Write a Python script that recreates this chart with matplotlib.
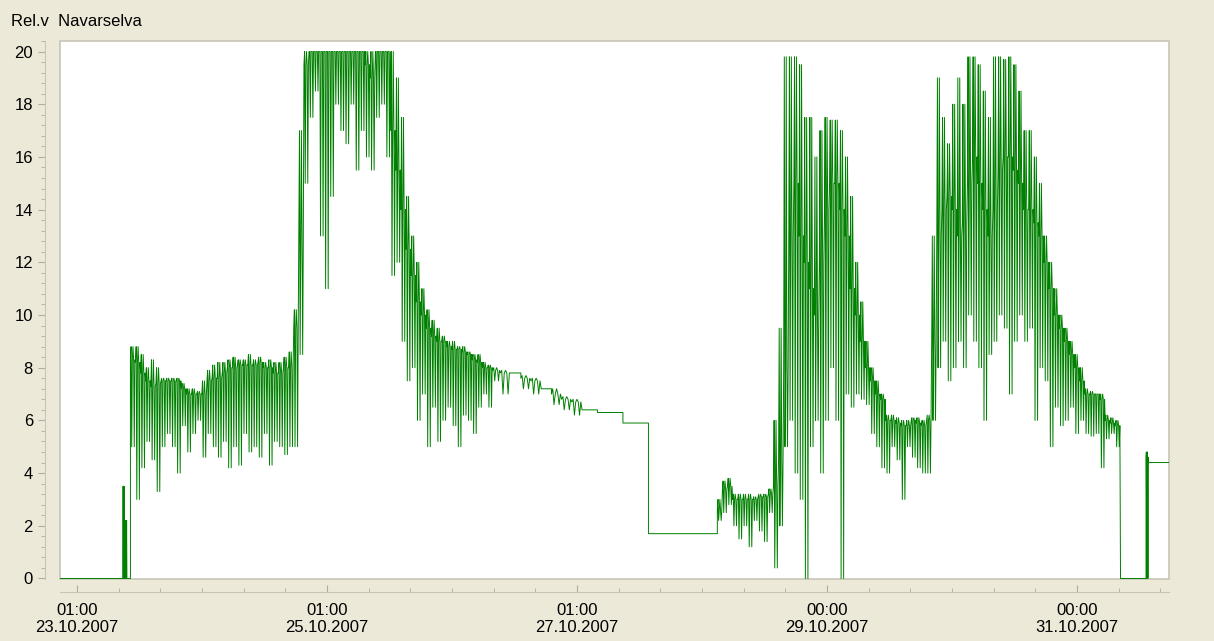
import matplotlib
matplotlib.use("Agg")
import matplotlib.pyplot as plt
from matplotlib.patches import Rectangle
from matplotlib.ticker import FixedLocator, MultipleLocator
import numpy as np

plt.rcParams["font.family"] = ["Liberation Sans", "DejaVu Sans"]

# hours since 23.10.2007 00:00 (approximate reading scale)
hours = [-4.3, 6, 6.5, 7, 7.5, 8, 8.5, 9, 9.5, 10.5,
         11.5, 12.5, 13.5, 14.5, 15.5, 16.5, 17.5, 18.5, 19.5, 20.5,
         21.5, 22.5, 23.5, 24.5, 25.5, 26.5, 27.5, 28.5, 29.5, 30.5,
         31.5, 32.5, 33.5, 34.5, 35.5, 36.5, 37.5, 38.5, 39.5, 40.5,
         41.5, 42.5, 43.5, 44.5, 45.5, 46.5, 47.5, 48.5, 49.5, 50.5,
         51.5, 52.5, 53.5, 54.5, 55.5, 56.5, 57.5, 58.5, 59.5, 60.5,
         61.5, 62.5, 63.5, 64.5, 65.5, 66.5, 67.5, 68.5, 69.5, 70.5,
         71.5, 72.5, 73.5, 74.5, 75.5, 76.5, 77.5, 78.5, 79.5, 80.5,
         82, 84, 86, 88, 90, 92, 94, 96, 98, 101,
         104, 106, 108, 110.5, 111, 114, 117, 120, 123, 124.5,
         125.5, 126.5, 127.5, 128.5, 129.5, 130.5, 131.5, 132.5, 133.5, 134.5,
         135.5, 136.5, 137.5, 138.5, 139.5, 140.5, 141.5, 142.5, 143.5, 144.5,
         145.5, 146.5, 147.5, 148.5, 149.5, 150.5, 151.5, 152.5, 153.5, 154.5,
         155.5, 156.5, 157.5, 158.5, 159.5, 160.5, 161.5, 162.5, 163.5, 164.5,
         165.5, 166.5, 167.5, 168.5, 169.5, 170.5, 171.5, 172.5, 173.5, 174.5,
         175.5, 176.5, 177.5, 178.5, 179.5, 180.5, 181.5, 182.5, 183.5, 184.5,
         185.5, 186.5, 187.5, 188.5, 189.5, 190.5, 191.5, 192.5, 193.5, 194.5,
         195.5, 196.5, 197.5, 198.5, 199.5, 200.5, 201.5, 202.5, 203.5, 204.5,
         206, 208.5, 209, 210, 211, 213]
main = [0, 0, 0, 0, 0, 0, 0, 0, 8.3, 8.2,
        7.8, 7.5, 7.3, 7.4, 7.5, 7.5, 7.5, 7.5, 7.2, 7.0,
        7.0, 7.0, 7.0, 7.5, 7.6, 7.6, 7.8, 8.0, 8.0, 8.1,
        8.1, 8.1, 8.1, 8.2, 8.0, 8.0, 7.8, 7.8, 8.0, 8.0,
        9.5, 13, 19.5, 20, 20, 20, 20, 20, 20, 20,
        20, 20, 20, 20, 19.5, 19, 20, 20, 20, 17,
        15.5, 14, 12.5, 11.5, 10.5, 10, 9.5, 9.2, 9, 9,
        8.8, 8.7, 8.7, 8.6, 8.5, 8.3, 8.2, 8.0, 8.0, 7.9,
        7.8, 7.8, 7.6, 7.5, 7.2, 7.0, 6.8, 6.7, 6.4, 6.3,
        6.3, 5.9, 5.9, 5.9, 1.7, 1.7, 1.7, 1.7, 1.7, 2.6,
        3.4, 3.5, 3.0, 3.0, 3.0, 3.0, 3.0, 3.1, 3.1, 3.2,
        3.5, 4.5, 8, 13, 15, 13, 12, 11, 10, 12,
        14, 15, 15, 14, 13, 11, 10, 9, 8, 7.5,
        7, 6.8, 6.0, 6.0, 5.9, 5.8, 5.8, 6.0, 5.9, 5.8,
        6, 9, 13, 14, 14.5, 14, 13, 13.5, 15, 16,
        15, 14, 13, 14, 15.5, 16, 16, 15.5, 15, 14,
        14, 13.5, 13, 12, 11, 10, 9.5, 9, 8.5, 8,
        7.5, 7, 7, 7, 6.8, 6, 5.9, 5.8, 0, 0,
        0, 4.6, 4.4, 4.4, 4.4, 4.4]
low = [0, 0, 0, 0, 0, 0, 0, 0, 5.0, 3.0,
       4.2, 5.2, 4.5, 3.3, 5.0, 5.5, 5.0, 4.0, 5.8, 4.8,
       5.5, 6.0, 4.6, 5.5, 5.0, 4.6, 5.2, 4.2, 5.0, 4.3,
       5.5, 4.8, 5.0, 4.6, 5.5, 4.3, 5.2, 5.0, 4.7, 5.0,
       5.0, 8.5, 15, 17.5, 18.5, 13, 11, 14.5, 18, 17,
       16.5, 18, 15.5, 17, 16, 15.5, 17.5, 18, 16, 11.5,
       12, 9, 7.5, 8, 6, 7, 5, 6.5, 5.2, 6,
       6.5, 5.8, 5, 6.2, 6, 5.5, 6.5, 7, 6.5, 7.5,
       7, 7.5, 7.2, 7, 7, 6.6, 6.4, 6.2, 6.2, 6.2,
       6.2, 5.8, 5.8, 5.8, 1.5, 1.5, 1.6, 1.6, 1.6, 2.2,
       2.5, 2.8, 2.0, 1.5, 2.0, 1.2, 2.2, 1.8, 1.4, 2.5,
       0.4, 2, 5, 6, 4, 3, 0, 5, 6, 4,
       6, 8, 6, 0, 7, 6.5, 7, 6.8, 6.6, 5.5,
       5, 4.2, 4, 5, 4.5, 3, 5, 4.6, 4.2, 4.0,
       4, 6, 8, 9, 7.5, 8, 9, 8, 10, 9,
       8, 6, 8.5, 9, 10, 9.5, 7, 9, 10, 9,
       9.5, 6, 8, 7.5, 5, 6.5, 5.8, 6, 6.5, 5.5,
       6, 5.5, 5.4, 5.5, 4.2, 5.3, 5.5, 5.0, 0, 0,
       0, 0, 4.3, 4.3, 4.3, 4.3]
high = [0, 0, 0, 0, 0, 3.5, 2.2, 0, 8.8, 8.8,
        8.5, 8.0, 8.3, 8.0, 7.6, 7.6, 7.6, 7.6, 7.4, 7.2,
        7.2, 7.1, 7.5, 7.9, 8.1, 8.2, 8.2, 8.3, 8.4, 8.3,
        8.3, 8.5, 8.3, 8.4, 8.2, 8.3, 8.2, 8.2, 8.4, 8.6,
        10.2, 17, 20, 20, 20, 20, 20, 20, 20, 20,
        20, 20, 20, 20, 20, 20, 20, 20, 20, 20,
        19, 17.5, 14.5, 13, 12, 11, 10.2, 9.8, 9.5, 9.2,
        9, 9, 8.8, 8.8, 8.6, 8.5, 8.5, 8.2, 8.1, 8.0,
        7.9, 7.9, 7.7, 7.6, 7.4, 7.2, 6.9, 6.8, 6.4, 6.4,
        6.4, 6.0, 6.0, 6.0, 1.9, 1.8, 1.8, 1.8, 1.8, 3.0,
        3.7, 3.8, 3.2, 3.2, 3.2, 3.2, 3.1, 3.2, 3.2, 3.4,
        6, 9.5, 19.8, 19.8, 19.8, 19.5, 17.5, 17.5, 16, 17,
        17.5, 17.4, 17.4, 17, 16, 14.5, 12, 10.5, 9, 8,
        7.5, 7, 6.2, 6.2, 6.1, 6.0, 6.0, 6.1, 6.1, 6.0,
        6.2, 13, 19, 17.5, 16.5, 18, 19, 18, 19.8, 19.8,
        19.5, 18.5, 17.5, 19.8, 19.8, 19.7, 19.8, 19.5, 18.5, 17,
        17, 16, 15, 13, 12, 11, 10, 9.5, 9, 8.5,
        8, 7.2, 7.1, 7.0, 7.0, 6.2, 6.1, 6.0, 0, 0,
        0, 4.8, 4.7, 4.5, 4.5, 4.5]

tick_pos = [-1, 48, 97, 146, 195]
tick_labels = ["01:00\n23.10.2007", "01:00\n25.10.2007", "01:00\n27.10.2007",
               "00:00\n29.10.2007", "00:00\n31.10.2007"]

bg = "#ECE9D8"
green = "#008000"
W, H = 1214, 641

# each reading interval traced as a zigzag between its high and low;
# quiet stretches are drawn as plain steps
pattern = "mhlmhmlm"
xs, ys = [], []
for i in range(len(hours) - 1):
    if high[i] - low[i] < 0.5:
        xs += [hours[i], hours[i + 1]]
        ys += [main[i], main[i]]
        continue
    vals = {"m": main[i], "h": high[i], "l": low[i]}
    for k, c in enumerate(pattern):
        xs.append(hours[i] + (hours[i + 1] - hours[i]) * k / len(pattern))
        ys.append(vals[c])
xs.append(hours[-1])
ys.append(main[-1])

fig = plt.figure(figsize=(W / 100, H / 100), dpi=100, facecolor=bg)
ax = fig.add_axes([60 / W, 1 - 579 / H, 1109 / W, 538 / H])
ax.set_facecolor("white")
ax.plot(xs, ys, color=green, lw=0.7)

ax.set_xlim(-4.3, 213)
ax.set_ylim(-0.02, 20.4)
ax.set_yticks(range(0, 21, 2))
ax.yaxis.set_minor_locator(MultipleLocator(0.4))
ax.set_xticks(tick_pos)
ax.set_xticklabels(tick_labels)
ax.xaxis.set_minor_locator(FixedLocator(np.arange(-1, 213, 49 / 6)))

for name in ("top", "right"):
    ax.spines[name].set_visible(False)
ax.spines["left"].set_position(("outward", 11))
ax.spines["bottom"].set_position(("outward", 9))
ax.spines["left"].set_color("#c8c5b8")
ax.spines["bottom"].set_color("#c8c5b8")
ax.tick_params(axis="y", which="both", direction="out", color="#b0ada0", labelsize=12)
ax.tick_params(axis="y", which="major", length=5)
ax.tick_params(axis="y", which="minor", length=3)
ax.tick_params(axis="x", which="both", direction="in", color="#b0ada0", labelsize=12, pad=8)
ax.tick_params(axis="x", which="major", length=5)
ax.tick_params(axis="x", which="minor", length=3)
ax.add_patch(Rectangle((0, 0), 1, 1, transform=ax.transAxes, fill=False,
                       edgecolor="#c8c5b8", lw=1.2, clip_on=False))

fig.text(11 / W, 1 - 22 / H, "Rel.v  Navarselva", fontsize=12, va="center")
fig.savefig("out.png", dpi=100, facecolor=bg)
